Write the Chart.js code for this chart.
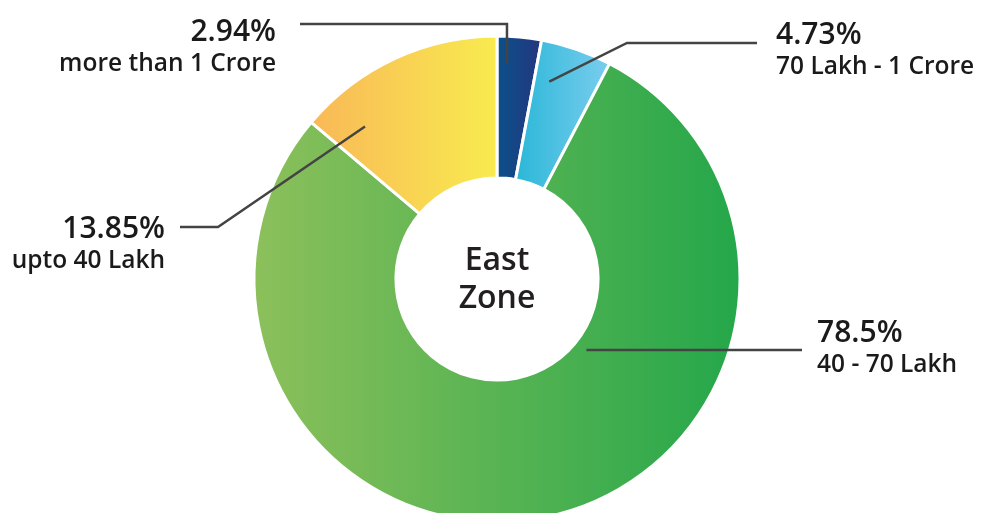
<!DOCTYPE html>
<html>
<head>
<meta charset="utf-8">
<script src="https://cdn.jsdelivr.net/npm/chart.js@4.4.1/dist/chart.umd.min.js"></script>
<style>
  html, body { margin: 0; padding: 0; background: #fff; overflow: hidden; }
  #wrap { width: 981px; height: 558px; }
</style>
</head>
<body>
<div id="wrap"><canvas id="zone-chart" width="981" height="558"></canvas></div>
<script>
// share of units by price band
const categories = ['more than 1 Crore', '70 Lakh - 1 Crore', '40 - 70 Lakh', 'upto 40 Lakh'];
const shares = [2.94, 4.73, 78.5, 13.85];
const zoneName = ['East', 'Zone'];

// left -> right gradient stops for each slice
const gradientStops = [
  ['#0b5189', '#25357f'],
  ['#2bb7d8', '#7acdee'],
  ['#8cc05b', '#24a74a'],
  ['#f9b857', '#f8eb4f'],
];

// where each leader line leaves its slice and where its label sits
const callouts = [
  { frac: 0.25, rad: 0.89, path: (p) => [[p.x, 24], [300, 24]], tx: 276, ty: 41, align: 'right' },
  { frac: 0.25, rad: 0.84, path: (p) => [[627, 43], [757, 43]], tx: 776, ty: 44, align: 'left' },
  { frac: 0.357, rad: 0.47, path: (p) => [[802, p.y]], tx: 817, ty: 342, align: 'left' },
  { frac: 0.18, rad: 0.83, path: (p) => [[218, 227], [180, 227]], tx: 165, ty: 238, align: 'right' },
];

const OUTER = 243;
const INNER = 101;

// x extent of an annular sector (angles in canvas radians)
function sectorXRange(cx, a0, a1) {
  const xs = [];
  [a0, a1].forEach((a) => {
    xs.push(cx + Math.cos(a) * OUTER, cx + Math.cos(a) * INNER);
  });
  for (let k = -4; k <= 4; k++) {
    const a = k * Math.PI;
    if (a > a0 && a < a1) xs.push(cx + Math.cos(a) * OUTER);
  }
  return [Math.min(...xs), Math.max(...xs)];
}

function sliceGradient(context) {
  const chart = context.chart;
  const area = chart.chartArea;
  const i = context.dataIndex;
  if (!area || i === undefined) return gradientStops[0][0];
  const total = shares.reduce((a, b) => a + b, 0);
  let start = -Math.PI / 2;
  for (let k = 0; k < i; k++) start += (shares[k] / total) * Math.PI * 2;
  const end = start + (shares[i] / total) * Math.PI * 2;
  const cx = (area.left + area.right) / 2;
  const [x0, x1] = sectorXRange(cx, start, end);
  const g = chart.ctx.createLinearGradient(x0, 0, x1, 0);
  g.addColorStop(0, gradientStops[i][0]);
  g.addColorStop(1, gradientStops[i][1]);
  return g;
}

const calloutPlugin = {
  id: 'callouts',
  afterDatasetsDraw(chart) {
    const ctx = chart.ctx;
    const meta = chart.getDatasetMeta(0);
    ctx.save();
    meta.data.forEach((arc, i) => {
      const c = callouts[i];
      const a = arc.startAngle + (arc.endAngle - arc.startAngle) * c.frac;
      const r = arc.outerRadius * c.rad;
      const p = { x: arc.x + Math.cos(a) * r, y: arc.y + Math.sin(a) * r };
      ctx.beginPath();
      ctx.moveTo(p.x, p.y);
      c.path(p).forEach(([x, y]) => ctx.lineTo(x, y));
      ctx.strokeStyle = '#444444';
      ctx.lineWidth = 2.5;
      ctx.lineJoin = 'miter';
      ctx.stroke();

      ctx.fillStyle = '#1a1a1a';
      ctx.textAlign = c.align;
      ctx.textBaseline = 'alphabetic';
      ctx.font = '600 30px "Open Sans"';
      ctx.fillText(shares[i] + '%', c.tx, c.ty);
      ctx.font = '600 24.5px "Open Sans"';
      ctx.fillText(categories[i], c.tx, c.ty + 30);
    });

    // zone name in the hole
    const arc0 = meta.data[0];
    ctx.fillStyle = '#231f20';
    ctx.textAlign = 'center';
    ctx.font = '600 32px "Open Sans"';
    ctx.fillText(zoneName[0], arc0.x, 270);
    ctx.fillText(zoneName[1], arc0.x, 308);
    ctx.restore();
  },
};

new Chart(document.getElementById('zone-chart'), {
  type: 'doughnut',
  data: {
    labels: categories,
    datasets: [{
      data: shares,
      backgroundColor: sliceGradient,
      borderColor: '#ffffff',
      borderWidth: 3,
      hoverOffset: 0,
    }],
  },
  options: {
    responsive: false,
    animation: false,
    radius: OUTER,
    cutout: (INNER / OUTER * 100).toFixed(1) + '%',
    layout: { padding: { left: 13, right: 0, top: 0, bottom: 0 } },
    plugins: { legend: { display: false }, tooltip: { enabled: false } },
  },
  plugins: [calloutPlugin],
});
</script>
</body>
</html>
